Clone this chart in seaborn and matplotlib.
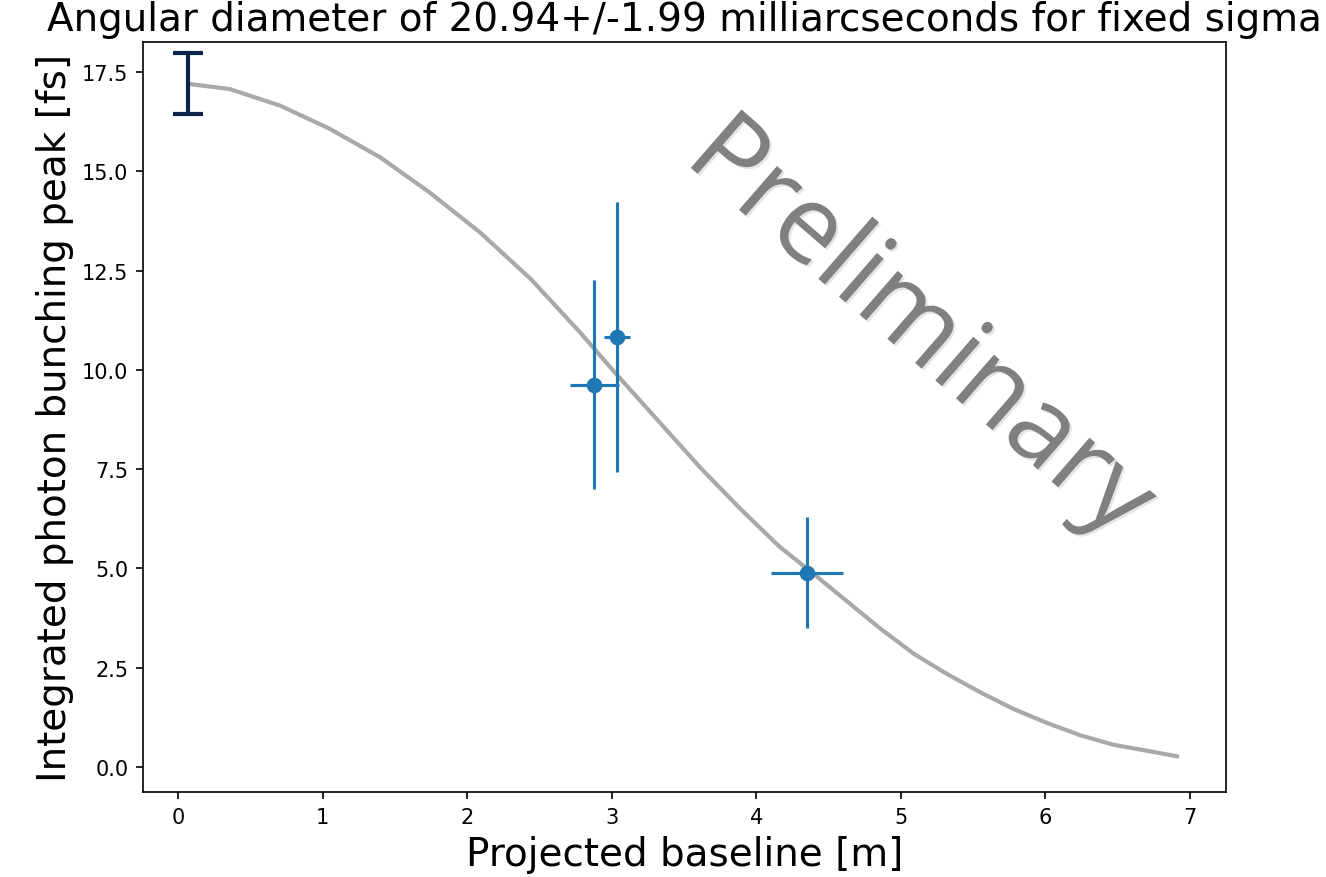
import numpy as np
import seaborn as sns
import matplotlib
matplotlib.use('Agg')
import matplotlib.pyplot as plt
import matplotlib.patheffects as pe

# fit curve
curve_x = [0.08, 0.36, 0.71, 1.05, 1.40, 1.74, 2.09, 2.44, 2.78, 3.03, 3.24, 3.61,
           3.89, 4.16, 4.35, 4.86, 5.09, 5.32, 5.55, 5.78, 6.01, 6.24, 6.47, 6.70, 6.91]
curve_y = [17.20, 17.07, 16.65, 16.07, 15.35, 14.47, 13.46, 12.29, 10.95, 9.90, 9.05, 7.55,
           6.50, 5.55, 5.00, 3.48, 2.85, 2.34, 1.88, 1.46, 1.11, 0.80, 0.56, 0.41, 0.27]

# measured points
base = [2.88, 3.04, 4.35]
base_err = [0.17, 0.09, 0.25]
peak = [9.63, 10.83, 4.89]
peak_err = [2.63, 3.39, 1.40]

# zero baseline
zero_x = [0.07]
zero_y = [17.21]
zero_err = [0.77]

title = 'Angular diameter of 20.94+/-1.99 milliarcseconds for fixed sigma'

fig, ax = plt.subplots(figsize=(8.84, 5.853), dpi=150)
fig.subplots_adjust(left=0.1078, right=0.9246, top=0.951, bottom=0.0968)

sns.lineplot(x=curve_x, y=curve_y, color='darkgrey', lw=2, ax=ax)
ax.errorbar(base, peak, xerr=base_err, yerr=peak_err, fmt='o', color='#1f77b4',
            ms=6.5, lw=1.5)
ax.errorbar(zero_x, zero_y, yerr=zero_err, fmt='none', ecolor='#0b2547',
            lw=2, capsize=7, capthick=2)

ax.text(0.717, 0.617, 'Preliminary', transform=ax.transAxes, rotation=-41,
        ha='center', va='center', fontsize=52, color='#808080',
        fontfamily=['Open Sans', 'DejaVu Sans'],
        path_effects=[pe.SimplePatchShadow(offset=(1, -1), alpha=0.12),
                      pe.Normal()])

ax.set_xlim(-0.242, 7.249)
ax.set_ylim(-0.63, 18.255)
ax.set_title(title, fontsize=18.7)
ax.set_xlabel('Projected baseline [m]', fontsize=18.7)
ax.set_ylabel('Integrated photon bunching peak [fs]', fontsize=18.7)

fig.savefig('out.png', dpi=150)
